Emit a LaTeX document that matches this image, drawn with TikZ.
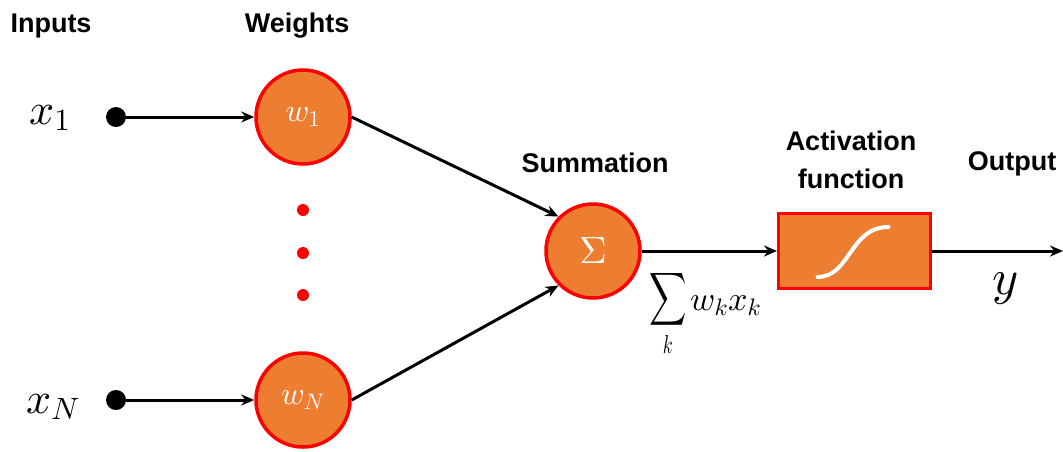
\documentclass[tikz,border=0pt]{standalone}
\usepackage{graphicx}
\usepackage[no-math]{fontspec}
\DeclareFontShape{OML}{cmm}{m}{it}{<->cmmi10}{}
\DeclareFontShape{OMX}{cmex}{m}{n}{<->cmex10}{}
\DeclareFontShape{OT1}{cmr}{m}{n}{<->cmr10}{}
\DeclareFontShape{OMS}{cmsy}{m}{n}{<->cmsy10}{}
\newfontfamily\labfont{Liberation Sans}
\usetikzlibrary{arrows.meta}
\definecolor{nodeorange}{HTML}{ED7D31}
\definecolor{nodered}{HTML}{FF0000}
\tikzset{
  lab/.style={font=\labfont\bfseries\fontsize{27}{32}\selectfont, inner sep=0pt, anchor=base, align=center},
  mathlab/.style={font=\fontsize{44}{50}\selectfont, inner sep=0pt},
  neuron/.style={circle, draw=nodered, fill=nodeorange, line width=3.5pt, minimum size=94pt, inner sep=0pt, text=white, font=\fontsize{32}{38}\selectfont},
  actbox/.style={rectangle, draw=nodered, fill=nodeorange, line width=3pt, minimum width=152pt, minimum height=75pt, inner sep=0pt},
  inputdot/.style={circle, fill=black, minimum size=20pt, inner sep=0pt},
  reddot/.style={circle, fill=nodered, minimum size=12pt, inner sep=0pt},
  conn/.style={line width=3pt, -{Stealth[length=13pt,width=11pt]}},
}
\begin{document}
\begin{tikzpicture}[x=1pt,y=-1pt]
\useasboundingbox (0,0) rectangle (1063,451);
% headings
\node[lab] (hin) at (51,32) {Inputs};
\node[lab] (hw) at (297,32) {Weights};
\node[lab] (hsum) at (595,172) {Summation};
\node[lab] (hact) at (851,150) {Activation};
\node[lab] (hfun) at (851,188) {function};
\node[lab] (hout) at (1012,170) {Output};
% inputs
\node[mathlab, anchor=base west] (x1) at (29,124) {$x_1$};
\node[mathlab, anchor=base west] (xN) at (26,413) {$x_N$};
\node[inputdot] (d1) at (116,117) {};
\node[inputdot] (dN) at (116,400) {};
% weights
\node[neuron] (w1) at (303,117) {$w_1$};
\node[neuron] (wN) at (303,400) {$w_N$};
\node[reddot] (r1) at (303,210) {};
\node[reddot] (r2) at (303,253) {};
\node[reddot] (r3) at (303,295) {};
% summation
\node[neuron, font=\fontsize{38}{44}\selectfont] (sig) at (593,251) {$\Sigma$};
\node[mathlab, font=\fontsize{37}{42}\selectfont, anchor=base west] (sumf) at (649,309) {\scalebox{0.7}[1]{$\displaystyle\sum_k$}};
\node[mathlab, font=\fontsize{34}{40}\selectfont, anchor=base west] (sumw) at (690,310) {$w_k x_k$};
% activation
\node[actbox] (act) at (854.5,251) {};
\draw[white, line width=4pt, line cap=round]
  ([shift={(act.center)}]-37,26) .. controls ([shift={(act.center)}]-4,26) and ([shift={(act.center)}]-5,-24) .. ([shift={(act.center)}]34,-24);
% output
\coordinate (oend) at (1063,251);
\node[mathlab, font=\fontsize{50}{56}\selectfont, anchor=base] (yout) at (1006,294) {$y$};
% connectors
\draw[conn] (d1) -- (w1.west);
\draw[conn] (dN) -- (wN.west);
\draw[conn] (w1.east) -- (sig.north west);
\draw[conn] (wN.east) -- (sig.south west);
\draw[conn] (sig.east) -- (act.west);
\draw[conn] (act.east) -- (oend);
\end{tikzpicture}
\end{document}
